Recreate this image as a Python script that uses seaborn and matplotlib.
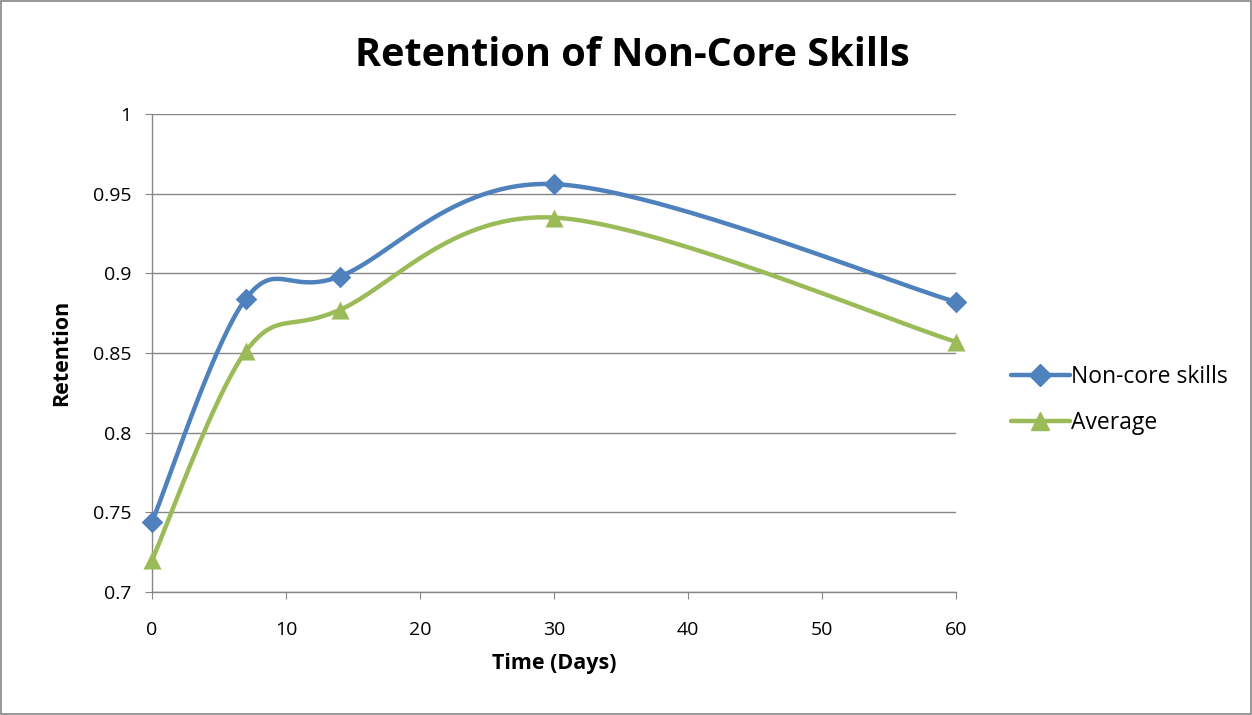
import matplotlib
matplotlib.use("Agg")
import matplotlib.pyplot as plt
import seaborn as sns
import numpy as np

# Data
days = [0, 7, 14, 30, 60]
non_core = [0.744, 0.884, 0.898, 0.956, 0.882]
average = [0.720, 0.851, 0.877, 0.935, 0.857]
y_ticks = [0.7, 0.75, 0.8, 0.85, 0.9, 0.95, 1]
y_tick_labels = ["0.7", "0.75", "0.8", "0.85", "0.9", "0.95", "1"]
x_ticks = [0, 10, 20, 30, 40, 50, 60]

blue = "#4F81BD"
green = "#9BBB59"

sns.set_style("white")
plt.rcParams["font.family"] = ["Open Sans", "DejaVu Sans"]
plt.rcParams["text.color"] = "black"
plt.rcParams["axes.labelcolor"] = "black"
plt.rcParams["xtick.color"] = "black"
plt.rcParams["ytick.color"] = "black"


def smooth(xs, ys, n=40):
    # Excel-like bezier smoothing done in (roughly) screen units
    sx, sy = 804 / 60, 478 / 0.3
    p = np.column_stack([np.array(xs) * sx, (np.array(ys) - 0.7) * sy])
    out = []
    for i in range(len(p) - 1):
        p0 = p[i - 1] if i > 0 else p[i]
        p3 = p[i + 2] if i + 2 < len(p) else p[i + 1]
        c1 = p[i] + (p[i + 1] - p0) / 6
        c2 = p[i + 1] - (p3 - p[i]) / 6
        t = np.linspace(0, 1, n)[:, None]
        seg = ((1 - t) ** 3 * p[i] + 3 * (1 - t) ** 2 * t * c1
               + 3 * (1 - t) * t ** 2 * c2 + t ** 3 * p[i + 1])
        out.append(seg if i == 0 else seg[1:])
    out = np.vstack(out)
    return out[:, 0] / sx, out[:, 1] / sy + 0.7


fig = plt.figure(figsize=(12.52, 7.15), dpi=100)
ax = fig.add_axes([152 / 1252, 1 - 592 / 715, 804 / 1252, 478 / 715])

series = [("Non-core skills", non_core, blue, "D", 11),
          ("Average", average, green, "^", 13)]
handles = []
for name, vals, col, mk, ms in series:
    cx, cy = smooth(days, vals)
    sns.lineplot(x=cx, y=cy, ax=ax, color=col, linewidth=3.2, sort=False,
                 estimator=None, clip_on=False)
    sns.scatterplot(x=days, y=vals, ax=ax, color=col, marker=mk,
                    s=ms ** 2, edgecolor=col, linewidth=0, clip_on=False,
                    zorder=5)
    handles.append(plt.Line2D([], [], color=col, linewidth=3.2, marker=mk,
                              markersize=ms, label=name))

if ax.get_legend() is not None:
    ax.get_legend().remove()

ax.set_xlim(0, 60)
ax.set_ylim(0.7, 1)
ax.set_xticks(x_ticks)
ax.set_yticks(y_ticks)
ax.set_yticklabels(y_tick_labels)
ax.tick_params(axis="x", labelsize=14, length=5, color="#868686",
               direction="out", bottom=True, pad=16)
ax.tick_params(axis="y", labelsize=14, length=5, color="#868686",
               direction="out", left=True, pad=10)
ax.grid(axis="y", color="#868686", linewidth=1)
ax.set_axisbelow(True)
for s in ["top", "right"]:
    ax.spines[s].set_visible(False)
for s in ["left", "bottom"]:
    ax.spines[s].set_color("#868686")
    ax.spines[s].set_linewidth(1)

ax.set_xlabel("Time (Days)", fontsize=15.5, fontweight="bold", labelpad=10)
ax.set_ylabel("Retention", fontsize=15.5, fontweight="bold", labelpad=15)
fig.text(0.505, 1 - 55 / 715, "Retention of Non-Core Skills", ha="center",
         va="center", fontsize=28.5, fontweight="bold")

fig.legend(handles=handles, loc="center left",
           bbox_to_anchor=(990 / 1252, 1 - 400 / 715), frameon=False,
           fontsize=16.5, handlelength=2.6, handletextpad=0.05,
           labelspacing=1.0)

fig.patches.append(plt.Rectangle((0.0008, 0.0014), 0.9984, 0.997,
                                 transform=fig.transFigure, fill=False,
                                 edgecolor="#868686", linewidth=1.2))

fig.savefig("out.png", dpi=100)
